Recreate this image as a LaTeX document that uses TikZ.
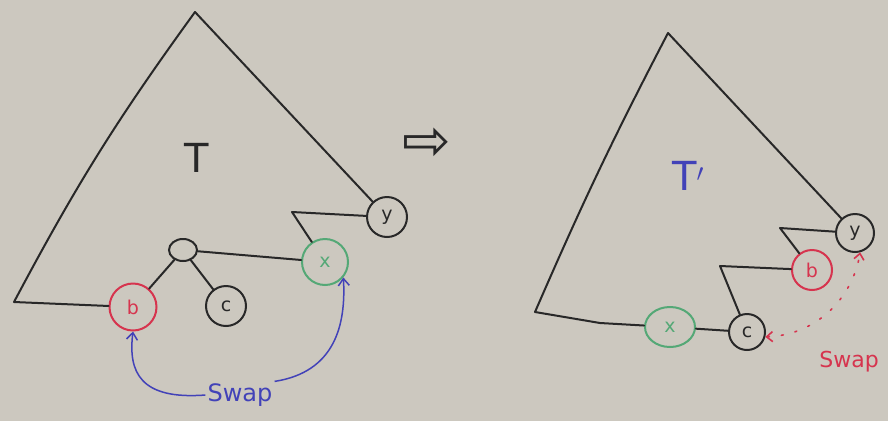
\documentclass[tikz,border=0pt]{standalone}
\usepackage{fontspec}
\setmainfont{DejaVu Sans}
\newfontfamily\symfont{DejaVu Sans}
\usetikzlibrary{arrows.meta,shapes.geometric}
\definecolor{bg}{RGB}{204,200,191}
\definecolor{ink}{RGB}{40,40,40}
\definecolor{pen red}{RGB}{214,52,78}
\definecolor{pen green}{RGB}{84,168,118}
\definecolor{pen blue}{RGB}{66,66,184}
\tikzset{
  edge/.style={draw=ink, line width=2pt, line join=round, line cap=round},
  vert/.style={circle, draw=ink, line width=2pt, inner sep=0pt, font=\fontsize{19}{19}\selectfont, text=ink},
  redvert/.style={vert, draw=pen red, text=pen red},
  greenvert/.style={vert, draw=pen green, text=pen green},
  swaparrow/.style={draw=pen blue, line width=1.5pt, -{Straight Barb[length=7pt,width=11pt]}},
  bigletter/.style={font=\fontsize{40}{40}\selectfont, inner sep=0pt},
}
\begin{document}
\begin{tikzpicture}[x=1pt,y=-1pt]
\fill[bg] (0,0) rectangle (888,421);
\useasboundingbox (0,0) rectangle (888,421);

% ---------- left tree T ----------
\coordinate (apexL) at (195,12);
\coordinate (cornerL) at (14,302);
\coordinate (kneeL) at (292,212);
\node[vert, minimum size=40pt] (yL) at (387,217) {y};
\node[greenvert, minimum size=46pt] (xL) at (325,262) {x};
\node[vert, ellipse, minimum width=28pt, minimum height=22pt] (sL) at (183,250) {};
\node[redvert, minimum size=47pt] (bL) at (133,307) {b};
\node[vert, minimum size=40pt] (cL) at (226,306) {c};

\draw[edge] (bL) -- (cornerL) to[bend left=4] (apexL) -- (yL);
\draw[edge] (yL) -- (kneeL) -- (xL);
\draw[edge] (sL) -- (xL);
\draw[edge] (sL) -- (bL);
\draw[edge] (sL) -- (cL);

\node[bigletter, text=ink] (TL) at (197,158) {T};

\node[font=\fontsize{24}{24}\selectfont, text=pen blue, inner sep=2pt] (swapL) at (240,395) {Swap};
\draw[swaparrow] (swapL.west) .. controls (140,400) and (128,372) .. (bL.south);
\draw[swaparrow] (swapL.north east) .. controls (335,372) and (346,325) .. (xL.-40);

% ---------- implication ----------
\node[font=\symfont\fontsize{58}{58}\selectfont, text=ink, inner sep=0pt] (impl) at (427,144) {⇨};

% ---------- right tree T' ----------
\coordinate (apexR) at (668,33);
\coordinate (cornerR) at (535,312);
\coordinate (bendR) at (600,323);
\coordinate (kneeRy) at (780,228);
\coordinate (kneeRb) at (720,266);
\node[vert, minimum size=38pt] (yR) at (855,233) {y};
\node[redvert, minimum size=40pt] (bR) at (812,270) {b};
\node[vert, minimum size=36pt] (cR) at (747,332) {c};
\node[greenvert, ellipse, minimum width=50pt, minimum height=40pt] (xR) at (670,327) {x};

\draw[edge] (xR) -- (bendR) -- (cornerR) to[bend left=2] (apexR) -- (yR);
\draw[edge] (yR) -- (kneeRy) -- (bR);
\draw[edge] (bR) -- (kneeRb) -- (cR);
\draw[edge] (xR) -- (cR);

\node[bigletter, text=pen blue] (TR) at (688,176) {T$'$};

\node[font=\fontsize{22}{22}\selectfont, text=pen red, inner sep=1pt] (swapR) at (849,362) {Swap};
\draw[draw=pen red, line width=1.6pt, dash pattern=on 2pt off 12pt, line cap=round,
      {Straight Barb[length=6pt,width=10pt]}-{Straight Barb[length=6pt,width=10pt]}]
  (cR.-15) .. controls (815,335) and (852,300) .. (yR.-75);
\end{tikzpicture}
\end{document}
